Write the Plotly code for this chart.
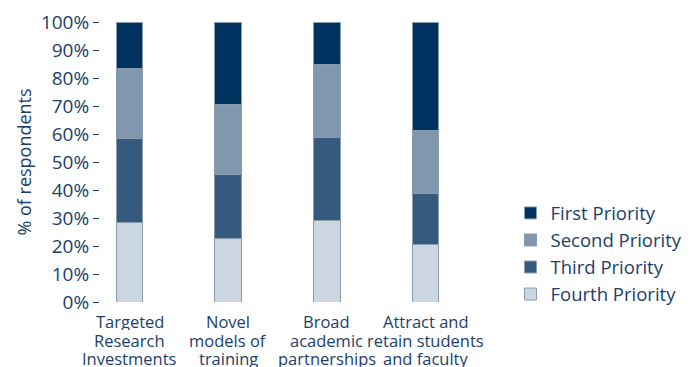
import plotly.graph_objects as go

categories = ["Targeted Research Investments", "Novel models of training",
              "Broad academic partnerships", "Attract and retain students and faculty"]
label_lines = [["Targeted", "Research", "Investments"],
               ["Novel", "models of", "training"],
               ["Broad", "academic", "partnerships"],
               ["Attract and", "retain students", "and faculty"]]

fourth = [28.3, 22.8, 29.1, 20.4]
third = [30.1, 22.7, 29.5, 18.3]
second = [24.9, 25.1, 26.3, 22.7]
first = [16.7, 29.4, 15.1, 38.6]

series = [("Fourth Priority", fourth, "#ccd6e0"),
          ("Third Priority", third, "#365a7d"),
          ("Second Priority", second, "#8097ae"),
          ("First Priority", first, "#00335f")]

tick_vals = [0, 10, 20, 30, 40, 50, 60, 70, 80, 90, 100]
tick_text = [f"{v}%" for v in tick_vals]

text_color = "#1c3e6c"
font_family = "Open Sans"

fig = go.Figure()
for name, vals, color in series:
    fig.add_trace(go.Bar(
        x=categories, y=vals, name=name, width=0.27,
        marker=dict(color=color, line=dict(color="#8a9db0", width=1)),
    ))

for cat, lines in zip(categories, label_lines):
    for i, line in enumerate(lines):
        fig.add_annotation(x=cat, xref="x", y=0, yref="paper", text=line,
                           showarrow=False, yanchor="middle", xanchor="center",
                           height=17, valign="middle", borderpad=0,
                           yshift=-19.7 - 18.3 * i,
                           font=dict(family=font_family, size=16.5, color=text_color))

fig.update_layout(
    width=696, height=367,
    margin=dict(l=92, r=230, t=14, b=73, autoexpand=False),
    barmode="stack",
    plot_bgcolor="white", paper_bgcolor="white",
    font=dict(family=font_family, color=text_color),
    legend=dict(traceorder="reversed", xref="container", yref="container",
                x=0.722, y=0.33, xanchor="left", yanchor="middle",
                font=dict(size=18.5, color=text_color), itemclick=False),
    xaxis=dict(range=[-0.3, 3.49], showticklabels=False, showgrid=False,
               zeroline=False, showline=False, ticks="", automargin=False),
    yaxis=dict(range=[0, 100], tickvals=tick_vals, ticktext=tick_text,
               ticks="outside", ticklen=6, tickcolor=text_color, tickwidth=1,
               showgrid=False, zeroline=False, showline=False, automargin=False,
               tickfont=dict(size=19, color=text_color),
               title=dict(text="% of respondents", font=dict(size=18, color=text_color),
                          standoff=4)),
)

fig.write_html("out.html")
